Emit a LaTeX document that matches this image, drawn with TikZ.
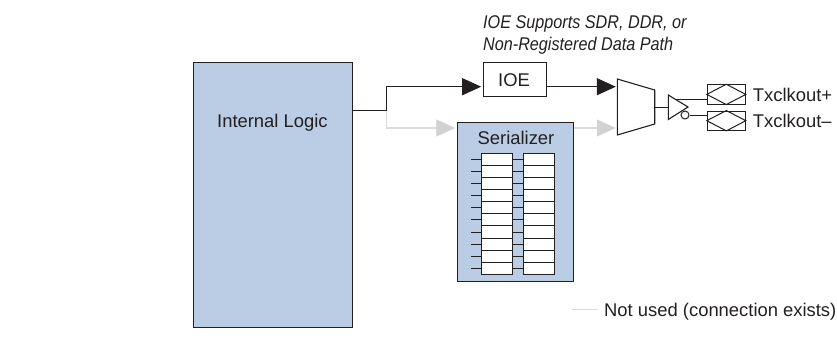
\documentclass[tikz,border=0pt]{standalone}
\usepackage{fontspec}
\setmainfont{Liberation Sans}
\newfontfamily\narrowfam[FakeStretch=0.88]{Liberation Sans}
\usetikzlibrary{arrows.meta,calc}
\definecolor{blk}{HTML}{231F20}
\definecolor{blu}{HTML}{BACDE5}
\definecolor{gryl}{HTML}{DADBDC}
\definecolor{gryt}{HTML}{D0D2D3}
\tikzset{
 txt/.style={inner sep=0pt,anchor=base,text=blk,font=\fontsize{18.4}{20}\selectfont},
 box/.style={draw=blk,line width=1.1pt,rectangle,inner sep=0pt},
 bluebox/.style={box,fill=blu},
 regcell/.style={draw=blk,line width=1pt,fill=white,rectangle,minimum width=31pt,minimum height=12.1pt,inner sep=0pt},
 thin wire/.style={draw=blk,line width=1pt},
 sigline/.style={draw=blk,line width=1.2pt,-{Triangle[length=19pt,width=17pt,fill=blk]},shorten >=1.5pt},
 unused/.style={draw=gryl,line width=1.1pt,-{Triangle[length=19pt,width=17pt,fill=gryt,color=gryt]},shorten >=1.5pt},
 pad/.style={draw=blk,line width=1pt,rectangle,minimum width=38pt,minimum height=19.3pt,inner sep=0pt},
 lab/.style={txt,anchor=base west},
 note/.style={inner sep=0pt,anchor=base west,text=blk,font=\narrowfam\itshape\fontsize{18.4}{20}\selectfont},
}
\begin{document}
\begin{tikzpicture}[x=1pt,y=-1pt]
\useasboundingbox (0,0) rectangle (837,341);
\node[bluebox,minimum width=159pt,minimum height=265pt] (logic) at (272.8,195) {};
\node[txt] (logiclab) at (272.4,127.7) {Internal Logic};
\node[box,minimum width=63.5pt,minimum height=33.3pt] (ioe) at (515,79.4) {};
\node[txt] (ioelab) at (514,86) {IOE};
\node[bluebox,minimum width=116pt,minimum height=159.4pt] (ser) at (515.3,202) {};
\node[txt] (serlab) at (516,144.3) {Serializer};
\node[note] (n1) at (483,28) {IOE Supports SDR, DDR, or};
\node[note] (n2) at (483,50) {Non-Registered Data Path};
% registers
\foreach \i in {0,...,9}{
  \node[regcell] (L\i) at (497.3,{159.4+12.1*\i}) {};
  \node[regcell] (R\i) at (539.2,{159.4+12.1*\i}) {};
  \coordinate (S\i) at ($(L\i.west)+(-10.5,0)$);
  \draw[thin wire] (S\i) -- (L\i.west);
  \draw[thin wire] (L\i.east) -- (R\i.west);
}
% mux
\coordinate (m1) at (617.3,79);
\coordinate (m2) at (654.7,90);
\coordinate (m3) at (654.7,124);
\coordinate (m4) at (617.3,135);
\coordinate (mo) at (654.7,107);
\draw[blk,line width=1.1pt,line join=miter] (m1) -- (m2) -- (m3) -- (m4) -- cycle;
% buffer
\coordinate (b1) at (668.3,95);
\coordinate (b2) at (688,107);
\coordinate (b3) at (668.3,119.5);
\coordinate (bi) at (668.3,107);
\draw[blk,line width=1.1pt] (b1) -- (b2) -- (b3) -- cycle;
\node[circle,draw=blk,line width=1pt,fill=white,minimum size=8pt,inner sep=0pt] (bub) at (685,115) {};
\coordinate (bt) at (676,99);
\draw[thin wire] (mo) -- (bi);
% pads
\node[pad] (p1) at (726.3,94.4) {};
\node[pad] (p2) at (726.3,120.7) {};
\draw[blk,line width=1pt] (p1.west) -- (p1.north) -- (p1.east) -- (p1.south) -- cycle;
\draw[blk,line width=1pt] (p2.west) -- (p2.north) -- (p2.east) -- (p2.south) -- cycle;
\draw[thin wire] (bt) -- (bt -| p1.west);
\coordinate (bo) at (bub.east);
\draw[thin wire] (bo) -- (bo -| p2.west);
\node[lab] (t1) at (752.7,101.7) {Txclkout+};
\node[lab] (t2) at (752.7,127.7) {Txclkout–};
% connectors
\coordinate (j) at (386.7,110.7);
\coordinate (ls) at (logic.east |- j);
\coordinate (m5) at (617.3,86.7);
\coordinate (m6) at (617.3,128);
\draw[unused] (j) |- (ser.west |- m6);
\draw[unused] (ser.east |- m6) -- (m6);
\draw[sigline] (ls) -- (j) |- (ioe.west |- m5);
\draw[sigline] (ioe.east |- m5) -- (m5);
% legend
\coordinate (g1) at (572,309.3);
\node[lab] (leg) at (604,316) {Not used (connection exists)};
\draw[draw=gryl,line width=1.1pt] (g1) -- (g1 -| 598,0);
\end{tikzpicture}
\end{document}
